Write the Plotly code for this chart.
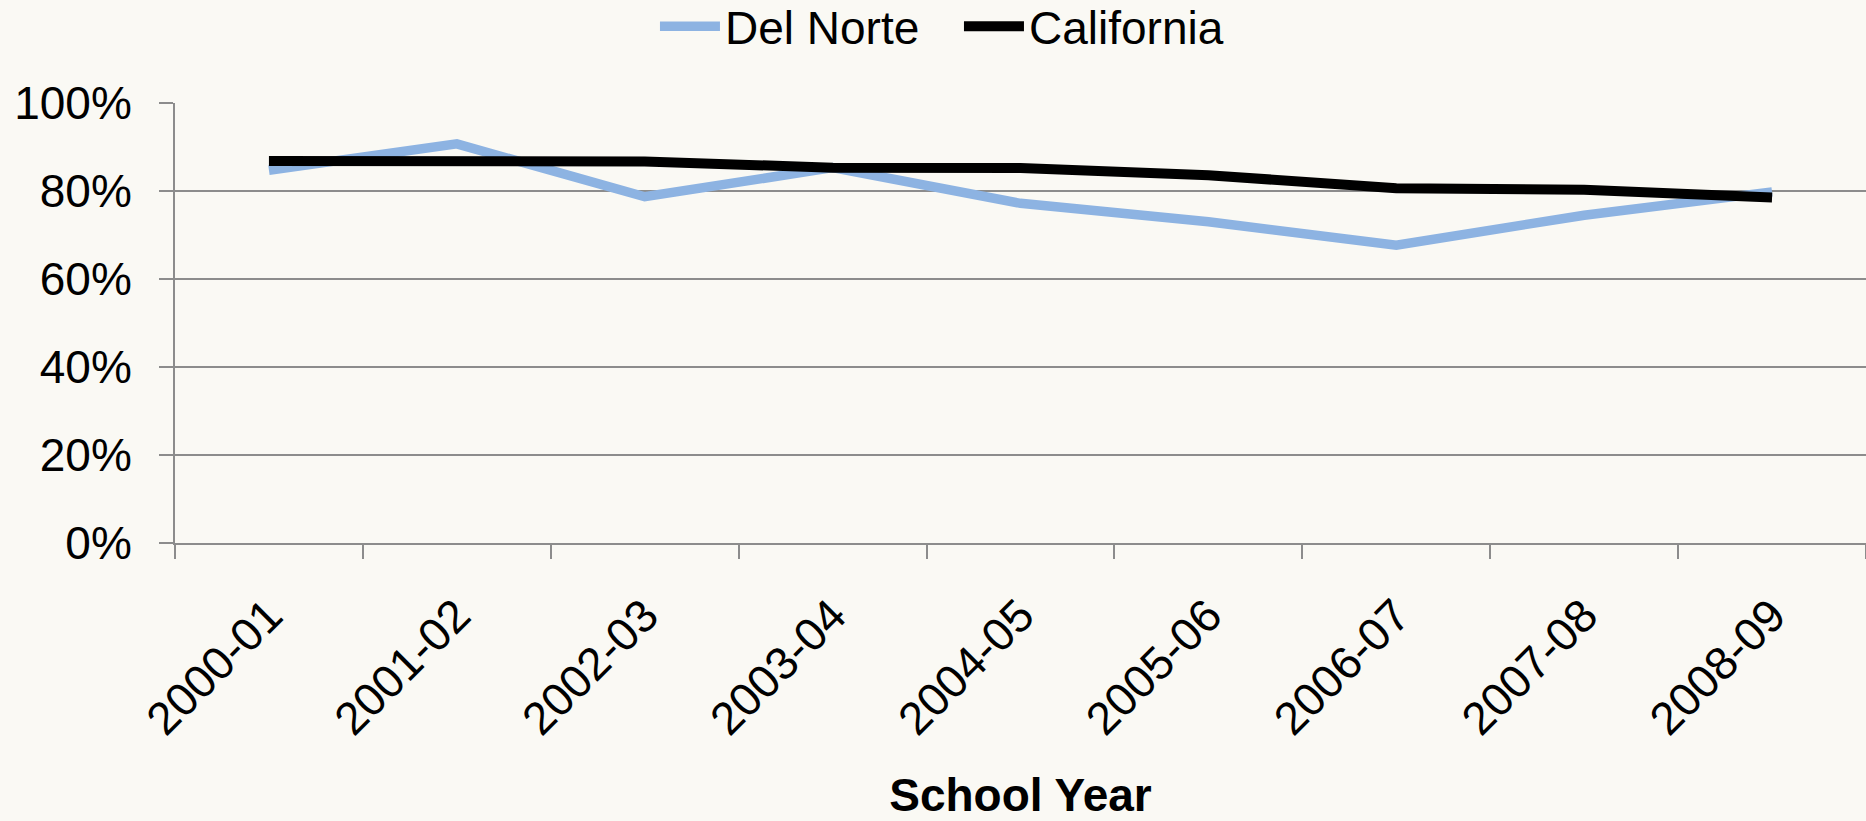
import plotly.graph_objects as go

years = ["2000-01", "2001-02", "2002-03", "2003-04", "2004-05",
         "2005-06", "2006-07", "2007-08", "2008-09"]
del_norte = [0.847, 0.907, 0.787, 0.853, 0.772, 0.730, 0.677, 0.745, 0.798]
california = [0.868, 0.870, 0.867, 0.853, 0.852, 0.836, 0.806, 0.803, 0.785]

BG = "#FAF9F4"
GRID = "#8C8C8C"
FONT = "Liberation Sans, Arial, sans-serif"
FS = 46

fig = go.Figure()
fig.add_trace(go.Scatter(x=years, y=del_norte, mode="lines", name="Del Norte",
                         line=dict(color="#8DB3E2", width=9.5)))
fig.add_trace(go.Scatter(x=years, y=california, mode="lines", name="California",
                         line=dict(color="#000000", width=10)))

fig.update_layout(
    width=1866, height=821, autosize=False,
    paper_bgcolor=BG, plot_bgcolor=BG,
    margin=dict(l=175, r=0, t=103, b=278),
    font=dict(family=FONT, size=FS, color="#000000"),
    showlegend=True,
    legend=dict(orientation="h", xref="container", x=0.351, xanchor="left",
                yref="container", y=0.968, yanchor="middle",
                font=dict(size=FS), bgcolor="rgba(0,0,0,0)",
                itemwidth=60, tracegroupgap=0,
                entrywidth=229, entrywidthmode="pixels"),
)
fig.update_yaxes(range=[0, 1], dtick=0.2, tickformat=".0%",
                 showgrid=True, gridcolor=GRID, gridwidth=2,
                 ticks="outside", ticklen=14, tickcolor=GRID, tickwidth=2,
                 showline=True, linecolor=GRID, linewidth=2, zeroline=False,
                 tickfont=dict(size=FS), ticklabelstandoff=18)
fig.update_xaxes(type="category", range=[-0.5, 8.5], tickson="boundaries",
                 ticks="outside",
                 ticklen=14, tickcolor=GRID, tickwidth=2, showgrid=False,
                 showline=True, linecolor=GRID, linewidth=2,
                 tickangle=-45, tickfont=dict(size=FS), ticklabelstandoff=25,
                 title=dict(text="<b>School Year</b>", font=dict(size=FS),
                            standoff=36))

fig.write_html("out.html", config={"displayModeBar": False},
               post_script="document.body.style.margin='0';document.body.style.overflow='hidden';")
